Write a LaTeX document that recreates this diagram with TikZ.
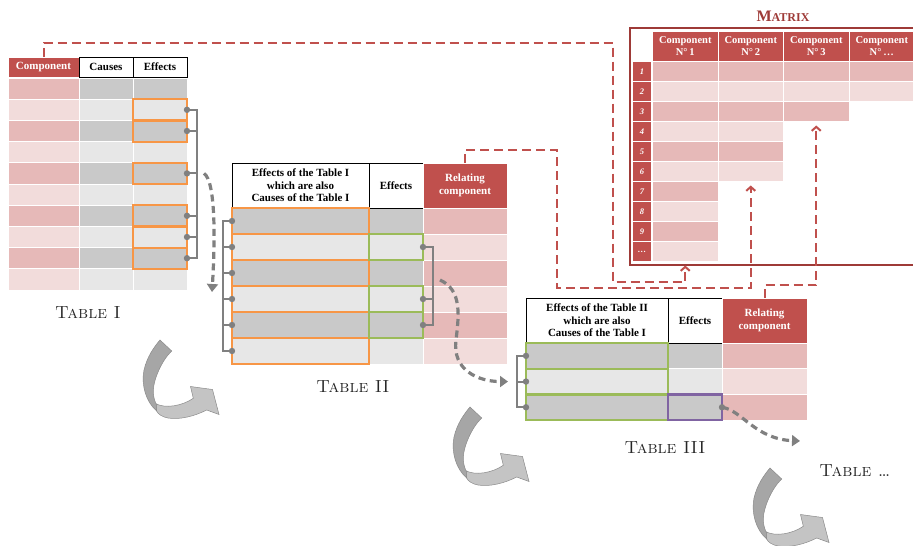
\documentclass[tikz,border=0pt]{standalone}
\usepackage{fontspec}
\newfontfamily\hdfont{Liberation Serif}
\usetikzlibrary{positioning,arrows.meta}

\definecolor{hdred}{HTML}{C0504D}
\definecolor{mxred}{HTML}{9E3A37}
\definecolor{pk1}{HTML}{E6B9B8}
\definecolor{pk0}{HTML}{F2DCDB}
\definecolor{gy1}{HTML}{C9C9C9}
\definecolor{gy0}{HTML}{E7E7E7}
\definecolor{orng}{HTML}{F79646}
\definecolor{grn}{HTML}{9BBB59}
\definecolor{purp}{HTML}{8064A2}
\definecolor{lnk}{HTML}{808080}
\definecolor{arrdk}{HTML}{A6A6A6}
\definecolor{arrlt}{HTML}{C4C4C4}
\definecolor{arrln}{HTML}{8A8A8A}

\tikzset{
  cell/.style={draw=white, line width=1pt, inner sep=0pt, outer sep=0pt, anchor=north west},
  head/.style={draw=black, line width=0.8pt, fill=white, inner sep=0pt, outer sep=0pt,
    anchor=north west, align=center, font=\hdfont\bfseries\fontsize{11}{12.5}\selectfont},
  redhead/.style={head, draw=white, fill=hdred, text=white},
  obox/.style={draw=orng, line width=2.2pt},
  gbox/.style={draw=grn, line width=2.2pt},
  pbox/.style={draw=purp, line width=2.2pt},
  tie/.style={draw=lnk, line width=1.9pt},
  flow/.style={draw=lnk, line width=3.2pt, dash pattern=on 7pt off 4.5pt,
    -{Triangle[length=8pt,width=11pt]}},
  rdash/.style={draw=hdred, line width=2pt, dash pattern=on 9pt off 5pt,
    -{Straight Barb[length=4pt,width=9pt]}},
  tname/.style={anchor=base, text=black!85, font=\fontsize{17.5}{17.5}\selectfont\scshape},
  turn/.pic={
    \filldraw[fill=arrlt, draw=arrln, line width=0.5pt] (-5,63.3) .. controls (5,69) and (22,66) .. (33.3,58.3)
      -- (30.5,46.5) -- (52.5,49.5) -- (59,74.5) -- (46.7,70) .. controls (35,76) and (20,80) .. (8,78)
      .. controls (2,77) and (-2,74) .. (-3.3,71) -- cycle;
    \filldraw[fill=arrdk, draw=arrln, line width=0.5pt] (0,0) -- (11.7,11) .. controls (2,20) and (-7,40) .. (-6.7,52)
      .. controls (-6.5,58) and (-5,62) .. (-3.3,65) -- (-3.3,71) .. controls (-14,62) and (-19,45) .. (-16,30)
      .. controls (-13,17) and (-6,7) .. (0,0) -- cycle;
  }
}

\begin{document}
\begin{tikzpicture}[x=1pt,y=-1pt]
  \useasboundingbox (0,0) rectangle (913,546);

  % Table I
  \foreach \r in {1,...,10}{
    \pgfmathtruncatemacro\k{mod(\r,2)}
    \node[cell, fill=pk\k, minimum width=71pt, minimum height=21.2pt] (ta-c\r) at (8,{78+21.2*(\r-1)}) {};
    \node[cell, fill=gy\k, minimum width=54pt, minimum height=21.2pt, right=0pt of ta-c\r] (ta-k\r) {};
    \node[cell, fill=gy\k, minimum width=54pt, minimum height=21.2pt, right=0pt of ta-k\r] (ta-e\r) {};
  }
  \node[redhead, minimum width=71pt, minimum height=20pt] (ta-h1) at (8,57) {Component};
  \node[head, minimum width=54pt, minimum height=20pt, right=0pt of ta-h1] (ta-h2) {Causes};
  \node[head, minimum width=54pt, minimum height=20pt, right=0pt of ta-h2] (ta-h3) {Effects};
  \foreach \r in {2,3,5,7,8,9}
    \draw[obox] (ta-e\r.north west) rectangle (ta-e\r.south east);
  \draw[tie] (ta-e2.east) -- ++(10,0) |- (ta-e9.east);
  \foreach \r in {3,5,7,8} \draw[tie] (ta-e\r.east) -- ++(10,0);
  \foreach \r in {2,3,5,7,8,9} \fill[lnk] (ta-e\r.east) circle (3.2pt);
  \node[tname] (lab-a) at (88,318) {Table I};

  % Table II
  \foreach \r in {1,...,6}{
    \pgfmathtruncatemacro\k{mod(\r,2)}
    \node[cell, fill=gy\k, minimum width=137pt, minimum height=26pt] (tb-a\r) at (232,{208+26*(\r-1)}) {};
    \node[cell, fill=gy\k, minimum width=54pt, minimum height=26pt, right=0pt of tb-a\r] (tb-e\r) {};
    \node[cell, fill=pk\k, minimum width=84pt, minimum height=26pt, right=0pt of tb-e\r] (tb-r\r) {};
  }
  \node[head, minimum width=137pt, minimum height=45pt] (tb-h1) at (232,163)
    {Effects of the Table I\\which are also\\Causes of the Table I};
  \node[head, minimum width=54pt, minimum height=45pt, right=0pt of tb-h1] (tb-h2) {Effects};
  \node[redhead, minimum width=84pt, minimum height=45pt, right=0pt of tb-h2] (tb-h3) {Relating\\component};
  \foreach \r in {1,...,6}
    \draw[obox] (tb-a\r.north west) rectangle (tb-a\r.south east);
  \foreach \r in {2,4,5}
    \draw[gbox] (tb-e\r.north west) rectangle (tb-e\r.south east);
  \draw[tie] (tb-a1.west) -- ++(-9,0) |- (tb-a6.west);
  \foreach \r in {2,...,5} \draw[tie] (tb-a\r.west) -- ++(-9,0);
  \draw[tie] (tb-e2.east) -- ++(10,0) |- (tb-e5.east);
  \draw[tie] (tb-e4.east) -- ++(10,0);
  \foreach \r in {1,...,6} \fill[lnk] (tb-a\r.west) circle (3.2pt);
  \foreach \r in {2,4,5} \fill[lnk] (tb-e\r.east) circle (3.2pt);
  \node[tname] (lab-b) at (353,392) {Table II};

  % Table III
  \foreach \r in {1,...,3}{
    \pgfmathtruncatemacro\k{mod(\r,2)}
    \node[cell, fill=gy\k, minimum width=142pt, minimum height=25.7pt] (tc-a\r) at (526,{343+25.7*(\r-1)}) {};
    \node[cell, fill=gy\k, minimum width=54pt, minimum height=25.7pt, right=0pt of tc-a\r] (tc-e\r) {};
    \node[cell, fill=pk\k, minimum width=85pt, minimum height=25.7pt, right=0pt of tc-e\r] (tc-r\r) {};
  }
  \node[head, minimum width=142pt, minimum height=45pt] (tc-h1) at (526,298)
    {Effects of the Table II\\which are also\\Causes of the Table I};
  \node[head, minimum width=54pt, minimum height=45pt, right=0pt of tc-h1] (tc-h2) {Effects};
  \node[redhead, minimum width=85pt, minimum height=45pt, right=0pt of tc-h2] (tc-h3) {Relating\\component};
  \foreach \r in {1,...,3}
    \draw[gbox] (tc-a\r.north west) rectangle (tc-a\r.south east);
  \draw[pbox] (tc-e3.north west) rectangle (tc-e3.south east);
  \draw[tie] (tc-a1.west) -- ++(-9,0) |- (tc-a3.west);
  \draw[tie] (tc-a2.west) -- ++(-9,0);
  \foreach \r in {1,...,3} \fill[lnk] (tc-a\r.west) circle (3.2pt);
  \fill[lnk] (tc-e3.east) circle (3.2pt);
  \node[tname] (lab-c) at (665,453) {Table III};
  \node[tname] (lab-d) at (855,476) {Table \ldots};
  \coordinate (tnext) at (800,441);

  % Matrix
  \draw[mxred, line width=2.2pt] (630,28) rectangle (918,265);
  \node[font=\hdfont\bfseries\fontsize{16}{16}\selectfont, text=mxred] (mx-t) at (783,16)
    {M{\fontsize{12}{12}\selectfont ATRIX}};
  \foreach \c/\t in {1/1,2/2,3/3,4/\ldots}
    \node[cell, fill=hdred, text=white, align=center, minimum width=65.5pt, minimum height=30.5pt,
      font=\hdfont\bfseries\fontsize{10.5}{12}\selectfont] (mx-h\c) at ({652.5+65.5*(\c-1)},31) {Component\\N°\,\t};
  \foreach \t [count=\r] in {1,...,9,\ldots}
    \node[cell, fill=hdred, text=white, minimum width=19pt, minimum height=20pt,
      font=\hdfont\bfseries\itshape\fontsize{8.5}{8.5}\selectfont] (mx-n\r) at (632.5,{61.5+20*(\r-1)}) {\t};
  \foreach \c/\n in {1/10,2/6,3/3,4/2}
    \foreach \r in {1,...,\n}{
      \pgfmathtruncatemacro\k{mod(\r,2)}
      \node[cell, fill=pk\k, minimum width=65.5pt, minimum height=20pt] (mx\c-\r) at ({652.5+65.5*(\c-1)},{61.5+20*(\r-1)}) {};
    }

  % links
  \draw[flow] ([xshift=17pt]ta-e5.east) .. controls +(12,8) and +(3,-50) .. ([xshift=-20pt,yshift=7pt]tb-a4.west);
  \draw[flow] ([xshift=17pt,yshift=6pt]tb-e3.south east) .. controls +(22,10) and +(3,-25) .. ++(16,60)
    .. controls +(-4,30) and +(-30,0) .. ([xshift=-18pt]tc-a2.west);
  \draw[flow] (tc-e3.east) .. controls +(20,3) and +(-45,-2) .. (tnext);
  \draw[rdash] (ta-h1.north) |- (613,43) |- (mx1-10.south |- 0,282) -- ([yshift=-4pt]mx1-10.south);
  \draw[rdash] (tb-h3.north) |- (557,150) |- (mx2-6.south |- 0,288) -- ([yshift=-4pt]mx2-6.south);
  \draw[rdash] (tc-h3.north) |- (mx3-3.south |- 0,285) -- ([yshift=-4pt]mx3-3.south);

  \pic at (160,340) {turn};
  \pic at (470,407) {turn};
  \pic at (770,468) {turn};
\end{tikzpicture}
\end{document}
